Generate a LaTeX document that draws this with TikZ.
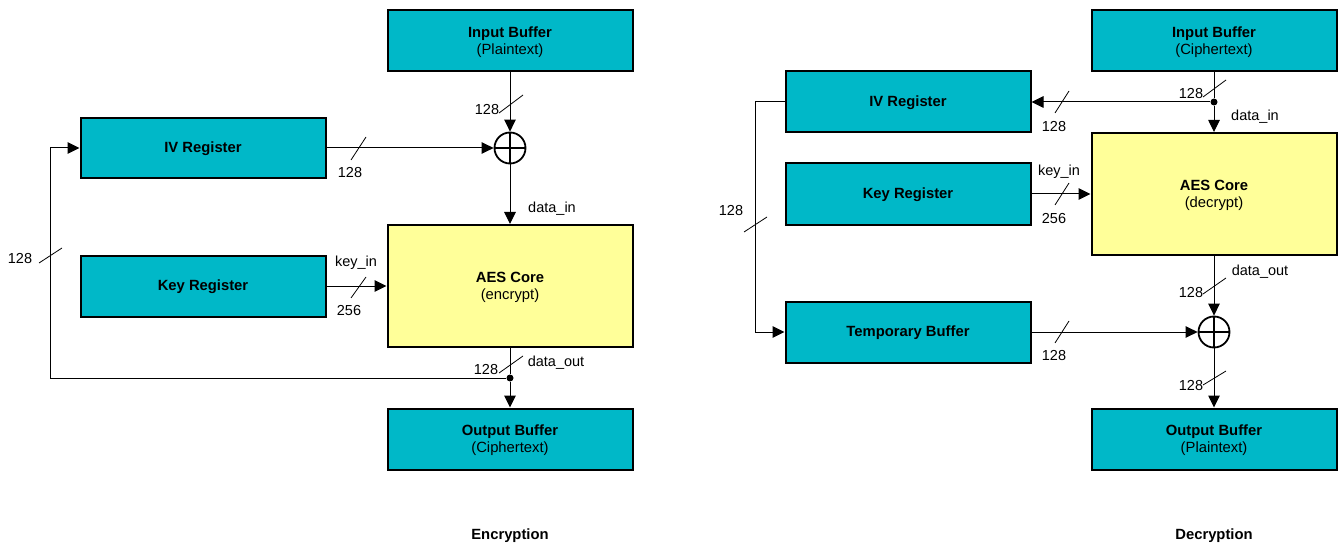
\documentclass[tikz,border=0pt]{standalone}
\usepackage{fontspec}
\setmainfont{Liberation Sans}
\usetikzlibrary{arrows.meta}
\definecolor{teal}{RGB}{0,184,200}
\definecolor{aesyellow}{RGB}{255,255,153}
\newcommand{\boxstrut}{\rule{0pt}{13pt}}
\tikzset{
  box/.style={draw=black, line width=2pt, fill=teal, minimum width=245pt, minimum height=61pt,
    inner sep=0pt, align=center, font=\fontsize{14.8}{17.5}\selectfont},
  core/.style={box, fill=aesyellow, minimum height=122pt},
  conn/.style={line width=1pt, draw=black},
  arr/.style={conn, -{Triangle[length=12pt,width=11.5pt]}},
  xor/.style={circle, draw=black, line width=1.8pt, minimum size=31pt, inner sep=0pt,
    path picture={\draw[line width=1.8pt] (path picture bounding box.north) -- (path picture bounding box.south)
      (path picture bounding box.west) -- (path picture bounding box.east);}},
  jdot/.style={circle, fill=black, minimum size=7pt, inner sep=0pt},
  lbl/.style={inner sep=0pt, font=\fontsize{14.5}{17}\selectfont},
  ttl/.style={inner sep=0pt, font=\fontsize{14.8}{17}\selectfont\bfseries},
  bus/.style={line width=0.8pt}
}
\begin{document}
\begin{tikzpicture}[x=1pt,y=-1pt]
\useasboundingbox (0,0) rectangle (1338,548);

% ---------------- Encryption ----------------
\node[box] (inL) at (510,41) {\boxstrut\textbf{Input Buffer}\\(Plaintext)};
\node[box, minimum height=60pt] (ivL) at (203,148) {\boxstrut\textbf{IV Register}};
\node[core] (aesL) at (510,286) {\boxstrut\textbf{AES Core}\\(encrypt)};
\node[box] (keyL) at (203,286) {\boxstrut\textbf{Key Register}};
\node[box] (outL) at (510,439) {\boxstrut\textbf{Output Buffer}\\(Ciphertext)};
\node[xor] (xorL) at (510,148) {};
\node[jdot] (dotL) at (510,378) {};
\coordinate (fbL) at (50,378);

\draw[arr] (inL) -- (xorL);
\draw[arr] (ivL) -- (xorL);
\draw[arr] (xorL) -- (aesL);
\draw[arr] (keyL) -- (aesL);
\draw[conn] (aesL) -- (dotL);
\draw[arr] (dotL) -- (outL);
\draw[arr] (dotL) -- (fbL) |- (ivL.west);

% bus marks
\draw[bus] (499,113) -- (523,95);
\draw[bus] (351,160) -- (366,137);
\draw[bus] (351,298) -- (366,277);
\draw[bus] (499,373) -- (523,356);
\draw[bus] (39,263) -- (62,248);

\node[lbl] (l1) at (487,110) {128};
\node[lbl] (l2) at (350,173) {128};
\node[lbl] (l3) at (20,259) {128};
\node[lbl] (l4) at (552,209) {data\_in};
\node[lbl] (l5) at (356,263) {key\_in};
\node[lbl] (l6) at (349,311) {256};
\node[lbl] (l7) at (486,370) {128};
\node[lbl] (l8) at (556,363) {data\_out};
\node[ttl] (encT) at (510,536) {Encryption};

% ---------------- Decryption ----------------
\node[box] (inR) at (1214,41) {\boxstrut\textbf{Input Buffer}\\(Ciphertext)};
\node[box] (ivR) at (908,102) {\boxstrut\textbf{IV Register}};
\node[core] (aesR) at (1214,194) {\boxstrut\textbf{AES Core}\\(decrypt)};
\node[box] (keyR) at (908,194) {\boxstrut\textbf{Key Register}};
\node[box] (tmpR) at (908,332) {\boxstrut\textbf{Temporary Buffer}};
\node[box] (outR) at (1214,439) {\boxstrut\textbf{Output Buffer}\\(Plaintext)};
\node[xor] (xorR) at (1214,332) {};
\node[jdot] (dotR) at (1214,102) {};
\coordinate (fbR) at (755,102);

\draw[conn] (inR) -- (dotR);
\draw[arr] (dotR) -- (aesR);
\draw[arr] (dotR) -- (ivR);
\draw[arr] (keyR) -- (aesR);
\draw[arr] (ivR.west) -- (fbR) |- (tmpR.west);
\draw[arr] (aesR) -- (xorR);
\draw[arr] (tmpR) -- (xorR);
\draw[arr] (xorR) -- (outR);

% bus marks
\draw[bus] (1203,97) -- (1226,80);
\draw[bus] (1055,113) -- (1069,91);
\draw[bus] (1055,205) -- (1069,183);
\draw[bus] (744,232) -- (767,217);
\draw[bus] (1203,294) -- (1226,278);
\draw[bus] (1055,343) -- (1069,321);
\draw[bus] (1203,385) -- (1226,371);

\node[lbl] (r1) at (1191,94) {128};
\node[lbl] (r2) at (1054,127) {128};
\node[lbl] (r3) at (1255,117) {data\_in};
\node[lbl] (r4) at (1059,172) {key\_in};
\node[lbl] (r5) at (1054,219) {256};
\node[lbl] (r6) at (731,211) {128};
\node[lbl] (r7) at (1260,272) {data\_out};
\node[lbl] (r8) at (1191,293) {128};
\node[lbl] (r9) at (1054,356) {128};
\node[lbl] (r10) at (1191,386) {128};
\node[ttl] (decT) at (1214,536) {Decryption};
\end{tikzpicture}
\end{document}
